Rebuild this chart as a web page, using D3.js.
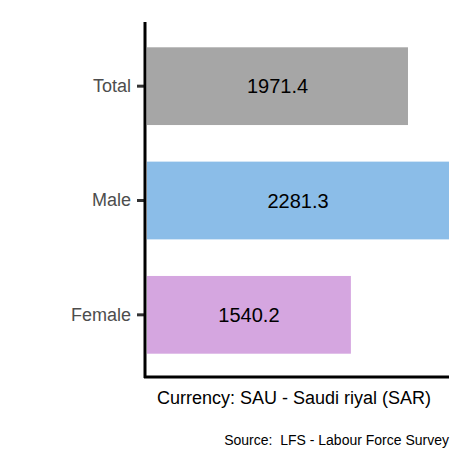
<!DOCTYPE html><html><head><script src="https://cdn.jsdelivr.net/npm/d3@7"></script>
<style>body{margin:0;background:#fff}</style></head><body><script>
const categories=["Total","Male","Female"];
const values=[1971.4,2281.3,1540.2];
const colors=["#a6a6a6","#8bbde8","#d5a6e0"];
const W=472,H=472,L=147,R=449,T=22,B=377;
const svg=d3.select("body").append("svg").attr("width",W).attr("height",H).style("font-family","Liberation Sans, Arial, sans-serif");
const x=d3.scaleLinear().domain([0,2281.3]).range([L,R]);
const y=d3.scaleBand().domain(categories).range([T+7,B-5]).paddingInner(0.32).paddingOuter(0.16);
svg.selectAll("rect.b").data(categories).join("rect").attr("x",L).attr("y",d=>y(d)).attr("height",y.bandwidth())
 .attr("width",(d,i)=>x(values[i])-L).attr("fill",(d,i)=>colors[i]);
svg.selectAll("text.v").data(categories).join("text").attr("x",(d,i)=>(L+x(values[i]))/2).attr("y",d=>y(d)+y.bandwidth()/2)
 .attr("dy","0.35em").attr("text-anchor","middle").attr("font-size",20).attr("fill","#000").text((d,i)=>values[i].toFixed(1));
const ay=svg.append("g").attr("transform",`translate(${L-2},0)`).call(d3.axisLeft(y).tickSize(8).tickPadding(6));
ay.select(".domain").remove();
ay.selectAll(".tick line").attr("stroke","#333").attr("stroke-width",3);
ay.selectAll(".tick text").attr("font-size",18).attr("fill","#4d4d4d").style("font-family","Liberation Sans, Arial, sans-serif");
svg.append("line").attr("x1",L-2).attr("x2",L-2).attr("y1",T).attr("y2",B+1).attr("stroke","#000").attr("stroke-width",3);
svg.append("line").attr("x1",L-3).attr("x2",R).attr("y1",B).attr("y2",B).attr("stroke","#000").attr("stroke-width",3);
svg.append("text").attr("x",(L-12+R+4)/2).attr("y",404).attr("text-anchor","middle").attr("font-size",18).text("Currency: SAU - Saudi riyal (SAR)");
svg.append("text").attr("x",R).attr("y",445).attr("text-anchor","end").attr("font-size",14).attr("xml:space","preserve").text("Source:  LFS - Labour Force Survey");
</script></body></html>
